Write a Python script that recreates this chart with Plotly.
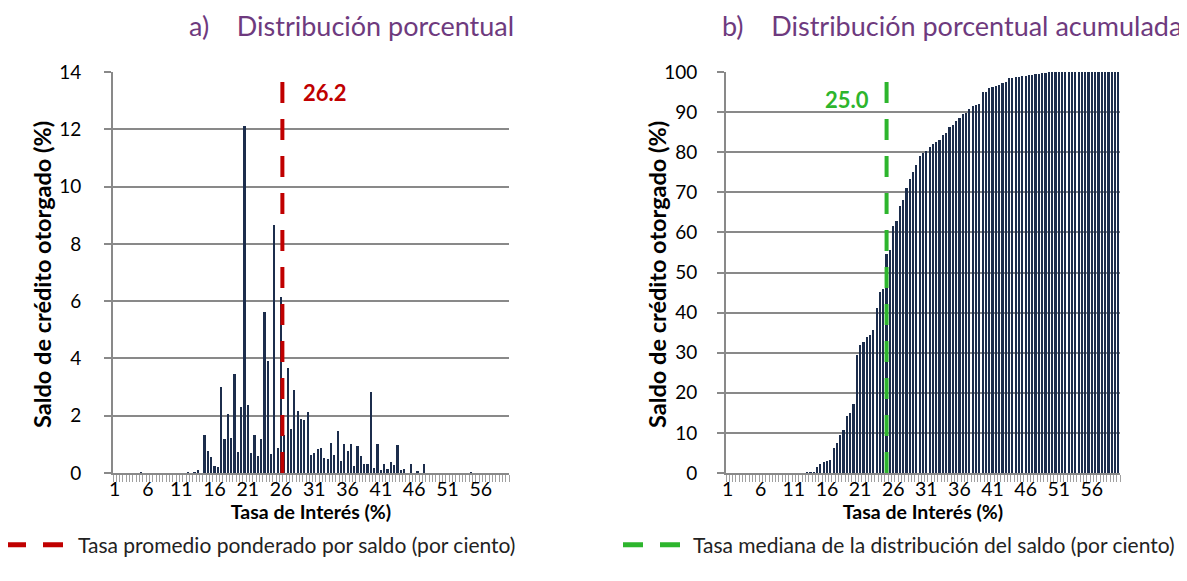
import plotly.graph_objects as go

# tasas de interes (categorias cada 0.5 puntos)
tasas = [1 + 0.5 * i for i in range(119)]

# a) distribucion porcentual del saldo (%)
distribucion = [
    0, 0, 0, 0, 0, 0, 0, 0, 0.02, 0,
    0, 0, 0, 0, 0, 0, 0, 0, 0, 0,
    0, 0, 0.02, 0, 0.02, 0.10, 0, 1.33, 0.76, 0.56,
    0.23, 0.22, 3.00, 1.18, 2.06, 1.23, 3.46, 0.73, 2.29, 12.13,
    2.37, 0.70, 1.33, 0.59, 1.18, 5.63, 3.92, 0.65, 8.66, 0.87,
    6.16, 1.33, 3.67, 1.53, 2.91, 2.16, 1.90, 1.84, 2.12, 0.63,
    0.70, 0.84, 0.88, 0.52, 0.50, 1.05, 0.64, 1.47, 0.43, 1.02,
    0.76, 1.02, 0.25, 0.93, 0.59, 0.31, 0.30, 2.83, 0.17, 1.03,
    0.10, 0.33, 0.15, 0.40, 0.27, 0.97, 0.09, 0.15, 0, 0.32,
    0, 0.06, 0, 0.32, 0, 0, 0, 0, 0, 0,
    0, 0, 0, 0, 0, 0, 0, 0.02, 0, 0,
    0, 0, 0, 0, 0, 0, 0, 0, 0,
]

# b) distribucion porcentual acumulada (%)
acumulada = [
    0, 0, 0, 0, 0, 0, 0, 0, 0, 0,
    0, 0, 0, 0, 0, 0, 0, 0, 0, 0,
    0, 0, 0, 0, 0.05, 0.1, 0.1, 1.5, 2.2, 2.8,
    3.1, 3.3, 6.3, 7.5, 9.5, 10.8, 14.3, 15.0, 17.3, 29.4,
    31.8, 32.6, 33.8, 34.5, 35.7, 41.2, 45.2, 45.9, 54.6, 55.5,
    61.6, 62.9, 66.6, 68.1, 71.0, 73.2, 75.1, 76.9, 79.0, 79.7,
    80.4, 81.2, 82.1, 82.6, 83.1, 84.2, 84.8, 86.3, 86.7, 87.8,
    88.5, 89.6, 89.8, 90.8, 91.4, 91.7, 92.0, 94.9, 95.1, 96.1,
    96.2, 96.6, 96.8, 97.2, 97.5, 98.5, 98.6, 98.8, 98.8, 99.1,
    99.1, 99.2, 99.2, 99.5, 99.6, 99.7, 99.8, 99.9, 100, 100,
    100, 100, 100, 100, 100, 100, 100, 100, 100, 100,
    100, 100, 100, 100, 100, 100, 100, 100, 100,
]

tasa_promedio = 26.2
tasa_mediana = 25.0

etiquetas_x = [1, 6, 11, 16, 21, 26, 31, 36, 41, 46, 51, 56]

FONT = "Lato"
BAR = "#1C2D4C"
GRID = "#898989"
RED = "#C00000"
GREEN = "#2DB52D"
PURPLE = "#6E3A7E"

# la pagina html deja 8px de margen en el body
W, H = 1179, 573

fig = go.Figure()

fig.add_trace(go.Bar(x=tasas, y=distribucion, width=0.33, marker=dict(color=BAR, line=dict(width=0)),
                     showlegend=False, xaxis="x", yaxis="y"))
fig.add_trace(go.Bar(x=tasas, y=acumulada, width=0.33, marker=dict(color=BAR, line=dict(width=0)),
                     showlegend=False, xaxis="x2", yaxis="y2"))

# lineas verticales
fig.add_trace(go.Scatter(x=[tasa_promedio, tasa_promedio], y=[0, 13.9], mode="lines",
                         line=dict(color=RED, width=4, dash="21px,16px"), showlegend=False,
                         hoverinfo="skip", xaxis="x", yaxis="y"))
fig.add_trace(go.Scatter(x=[tasa_mediana, tasa_mediana], y=[0, 100], mode="lines",
                         line=dict(color=GREEN, width=4, dash="21px,16px"), showlegend=False,
                         hoverinfo="skip", xaxis="x2", yaxis="y2"))

# entradas de leyenda
fig.add_trace(go.Scatter(x=[None], y=[None], mode="lines", name="Tasa promedio ponderado por saldo (por ciento)",
                         line=dict(color=RED, width=5, dash="20px,17px"), legend="legend", xaxis="x", yaxis="y"))
fig.add_trace(go.Scatter(x=[None], y=[None], mode="lines", name="Tasa mediana de la distribución del saldo (por ciento)",
                         line=dict(color=GREEN, width=5, dash="20px,17px"), legend="legend2", xaxis="x2", yaxis="y2"))

xcommon = dict(range=[0.75, 60.25], tickmode="array", tickvals=etiquetas_x, ticktext=[str(v) for v in etiquetas_x],
               ticks="", showgrid=False, showline=True, linecolor=GRID, linewidth=1.5, zeroline=False,
               automargin=False, ticklabelstandoff=-2, tickfont=dict(family=FONT, size=19.5, color="#000"),
               minor=dict(ticks="outside", ticklen=7, tickwidth=1, tickcolor="#A0A0A0", tick0=0.75, dtick=0.5),
               title=dict(text="<b>Tasa de Interés (%)</b>", font=dict(family=FONT, size=19.5, color="#000"), standoff=6))
ycommon = dict(showgrid=True, gridcolor=GRID, gridwidth=1.6, showline=True, linecolor=GRID, linewidth=1.6,
               ticks="outside", ticklen=7, tickcolor=GRID, tickwidth=1.6, zeroline=False, automargin=False,
               tickfont=dict(family=FONT, size=19, color="#000"))

ydom = [1 - 465 / H, 1 - 64 / H]

fig.update_layout(
    width=W, height=H,
    margin=dict(l=0, r=0, t=0, b=0, autoexpand=False),
    plot_bgcolor="white", paper_bgcolor="white",
    bargap=0,
    font=dict(family=FONT, color="#000"),
    xaxis=dict(domain=[105 / W, 501 / W], anchor="y", **xcommon),
    yaxis=dict(domain=ydom, anchor="x", range=[0, 14], dtick=2, ticklabelstandoff=19, **ycommon),
    xaxis2=dict(domain=[718 / W, 1112 / W], anchor="y2", **xcommon),
    yaxis2=dict(domain=ydom, anchor="x2", range=[0, 100], dtick=10, ticklabelstandoff=16, **ycommon),
    legend=dict(x=-7 / W, y=1 - 537 / H, xanchor="left", yanchor="middle", orientation="h",
                font=dict(family=FONT, size=21, color="#222"), itemwidth=67),
    legend2=dict(x=610 / W, y=1 - 537 / H, xanchor="left", yanchor="middle", orientation="h",
                 font=dict(family=FONT, size=21, color="#222"), itemwidth=65),
)

# titulos de eje y
for xp in (34 / W, 649 / W):
    fig.add_annotation(x=xp, y=1 - 267 / H, xref="paper", yref="paper", xanchor="center", yanchor="middle",
                       text="<b>Saldo de crédito otorgado (%)</b>", textangle=-90, showarrow=False,
                       font=dict(family=FONT, size=23.5, color="#000"))

# etiquetas de valor de las lineas
fig.add_annotation(x=tasa_promedio, y=13.3, xref="x", yref="y", text="<b>26.2</b>", showarrow=False,
                   xanchor="left", xshift=19, font=dict(family=FONT, size=22, color=RED))
fig.add_annotation(x=tasa_mediana, y=93.1, xref="x2", yref="y2", text="<b>25.0</b>", showarrow=False,
                   xanchor="right", xshift=-16, font=dict(family=FONT, size=22, color=GREEN))

# titulos de los paneles
fig.add_annotation(x=507 / W, y=1, xref="paper", yref="paper", xanchor="right", yanchor="top", borderpad=0,
                   text="a)\u00a0\u00a0\u00a0\u00a0Distribución porcentual", showarrow=False,
                   font=dict(family=FONT, size=27, color=PURPLE))
fig.add_annotation(x=1175 / W, y=1, xref="paper", yref="paper", xanchor="right", yanchor="top", borderpad=0,
                   text="b)\u00a0\u00a0\u00a0\u00a0Distribución porcentual acumulada", showarrow=False,
                   font=dict(family=FONT, size=27, color=PURPLE))

fig.write_html("out.html")
